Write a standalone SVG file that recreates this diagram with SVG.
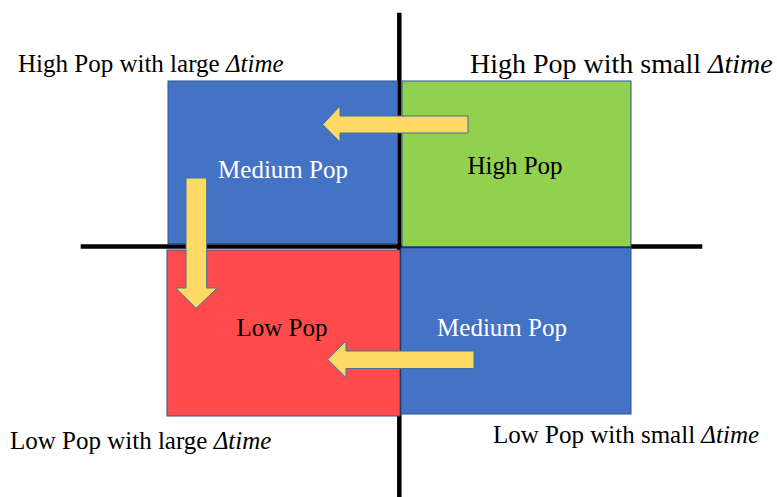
<svg xmlns="http://www.w3.org/2000/svg" width="777" height="497" viewBox="0 0 777 497">
<style>
.box{stroke:#2F528F;stroke-width:1}
.arrow{fill:#FFD966;stroke:#41719C;stroke-width:1}
.axis{stroke:#000;stroke-width:4.5;fill:none}
text{font-family:"Liberation Serif","Times New Roman",serif}
.lbl{font-size:25px;text-anchor:middle}
.corner{font-size:25px;fill:#000}
.it{font-style:italic}
</style>
<rect width="777" height="497" fill="#fff"/>
<g id="axes">
<line class="axis" x1="399.3" y1="12.7" x2="399.3" y2="497"/>
<line class="axis" x1="80.7" y1="246.5" x2="702.3" y2="246.5"/>
</g>
<g id="medium-tl">
<rect class="box" x="168" y="81" width="229.5" height="162.5" fill="#4472C4"/>
<text class="lbl" x="283" y="178" fill="#fff">Medium Pop</text>
</g>
<g id="high">
<rect class="box" x="402" y="81" width="229" height="165.7" fill="#92D050"/>
<text class="lbl" x="515" y="174" fill="#000">High Pop</text>
</g>
<g id="low">
<rect class="box" x="167" y="250" width="233" height="166" fill="#FF4B4B"/>
<text class="lbl" x="282" y="336" fill="#000">Low Pop</text>
</g>
<g id="medium-br">
<rect class="box" x="401" y="248" width="230" height="166" fill="#4472C4"/>
<text class="lbl" x="502" y="335.7" fill="#fff">Medium Pop</text>
</g>
<g id="connectors">
<path class="arrow" d="M468,116 L340,116 L340,106 L322.7,124.5 L340,142 L340,133 L468,133 Z"/>
<path class="arrow" d="M186,178 L206.7,178 L206.7,288 L217.3,288 L196,308.3 L175.7,288 L186,288 Z"/>
<path class="arrow" d="M474,351 L346,351 L346,341 L327.7,359.5 L346,377.7 L346,368.5 L474,368.5 Z"/>
</g>
<g id="labels">
<text class="corner" x="18" y="72">High Pop with large <tspan class="it">Δtime</tspan></text>
<text class="corner" x="470" y="73" style="font-size:28px">High Pop with small <tspan class="it">Δtime</tspan></text>
<text class="corner" x="10" y="449">Low Pop with large <tspan class="it">Δtime</tspan></text>
<text class="corner" x="493" y="443">Low Pop with small <tspan class="it">Δtime</tspan></text>
</g>
</svg>
